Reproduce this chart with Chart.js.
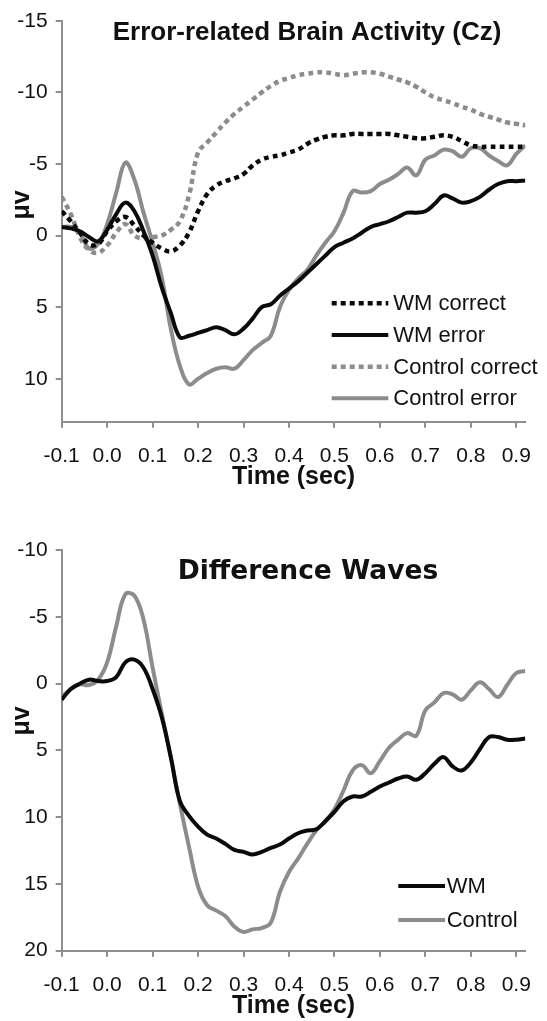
<!DOCTYPE html>
<html>
<head>
<meta charset="utf-8">
<title>Error-related Brain Activity</title>
<script src="https://cdn.jsdelivr.net/npm/chart.js@4.4.1/dist/chart.umd.min.js"></script>
<style>
  html, body { margin: 0; padding: 0; background: #ffffff; }
  .panel { position: absolute; left: 0; width: 547px; }
  #topPanel { top: 0; height: 505px; }
  #bottomPanel { top: 505px; height: 516px; }
</style>
</head>
<body>
<div class="panel" id="topPanel"><canvas id="erpChart" width="547" height="505"></canvas></div>
<div class="panel" id="bottomPanel"><canvas id="diffChart" width="547" height="516"></canvas></div>
<script>
// time axis (sec), shared by both panels
const timeSec = [-0.10, -0.08, -0.06, -0.04, -0.02, 0.00, 0.02, 0.04, 0.06, 0.08,
  0.10, 0.12, 0.14, 0.16, 0.18, 0.20, 0.22, 0.24, 0.26, 0.28,
  0.30, 0.32, 0.34, 0.36, 0.38, 0.40, 0.42, 0.44, 0.46, 0.48,
  0.50, 0.52, 0.54, 0.56, 0.58, 0.60, 0.62, 0.64, 0.66, 0.68,
  0.70, 0.72, 0.74, 0.76, 0.78, 0.80, 0.82, 0.84, 0.86, 0.88,
  0.90, 0.92];

// top panel: Cz amplitudes (µV)
const wmCorrect = [-1.7, -1.0, -0.2, 0.6, 0.6, -0.3, -1.0, -1.3, -0.7, 0.0,
  0.5, 0.9, 1.1, 0.7, -0.2, -1.7, -2.9, -3.5, -3.8, -4.0,
  -4.3, -4.9, -5.3, -5.5, -5.6, -5.8, -6.0, -6.4, -6.7, -6.9,
  -7.0, -7.0, -7.1, -7.1, -7.1, -7.1, -7.1, -7.0, -6.9, -6.8,
  -6.8, -6.9, -7.0, -6.9, -6.6, -6.3, -6.2, -6.2, -6.2, -6.2,
  -6.2, -6.2];
const wmError = [-0.6, -0.5, -0.3, 0.1, 0.4, -0.4, -1.5, -2.3, -1.7, -0.3,
  1.4, 3.6, 5.4, 7.1, 7.0, 6.8, 6.6, 6.4, 6.6, 6.9,
  6.5, 5.8, 5.0, 4.8, 4.2, 3.7, 3.2, 2.6, 2.0, 1.4,
  0.8, 0.5, 0.2, -0.2, -0.6, -0.8, -1.0, -1.3, -1.6, -1.6,
  -1.7, -2.2, -2.8, -2.6, -2.3, -2.4, -2.7, -3.2, -3.6, -3.8,
  -3.8, -3.85];
const controlCorrect = [-2.7, -1.5, 0.1, 1.0, 1.2, 0.7, -0.2, -0.8, 0.0, 0.2,
  0.1, 0.0, -0.4, -1.0, -2.8, -5.8, -6.5, -7.2, -7.9, -8.5,
  -9.0, -9.5, -10.0, -10.45, -10.8, -11.0, -11.2, -11.3, -11.4, -11.4,
  -11.3, -11.2, -11.3, -11.4, -11.4, -11.3, -11.1, -10.9, -10.7, -10.4,
  -10.0, -9.65, -9.45, -9.25, -9.0, -8.8, -8.5, -8.3, -8.1, -7.9,
  -7.8, -7.7];
const controlError = [-0.6, -0.6, -0.2, 0.9, 0.6, -0.8, -3.0, -5.1, -3.9, -1.6,
  0.5, 2.9, 6.5, 9.1, 10.4, 10.0, 9.6, 9.3, 9.2, 9.3,
  8.7, 8.0, 7.5, 7.0, 5.0, 3.8, 3.0, 2.4, 1.4, 0.5,
  -0.3, -1.6, -3.1, -3.0, -3.1, -3.6, -3.9, -4.3, -4.75, -4.2,
  -5.3, -5.6, -6.0, -5.9, -5.5, -6.1, -6.1, -5.6, -5.2, -4.9,
  -5.7, -6.3];

// bottom panel: error minus correct
const wmDiff = [1.2, 0.4, 0.0, -0.3, -0.2, -0.2, -0.5, -1.6, -1.8, -1.2,
  0.4, 2.5, 5.5, 8.8, 9.9, 10.7, 11.3, 11.6, 12.0, 12.45,
  12.6, 12.8, 12.6, 12.3, 12.05, 11.6, 11.2, 11.0, 10.9, 10.3,
  9.6, 8.8, 8.45, 8.45, 8.1, 7.7, 7.4, 7.1, 6.95, 7.2,
  6.7, 6.0, 5.5, 6.2, 6.5, 5.9, 4.9, 4.0, 4.0, 4.2,
  4.2, 4.1];
const controlDiff = [1.0, 0.4, 0.05, 0.1, -0.3, -1.6, -4.3, -6.7, -6.6, -4.8,
  -1.2, 2.2, 5.5, 9.0, 12.2, 15.2, 16.6, 17.0, 17.4, 18.2,
  18.6, 18.4, 18.3, 17.9, 15.6, 14.1, 13.1, 12.0, 11.0, 10.3,
  9.4, 8.0, 6.5, 6.1, 6.7, 5.8, 4.8, 4.2, 3.7, 3.9,
  2.0, 1.4, 0.7, 0.8, 1.2, 0.5, -0.1, 0.4, 1.0, 0.1,
  -0.8, -0.95];

// tick labels
const xTicks = [-0.1, 0.0, 0.1, 0.2, 0.3, 0.4, 0.5, 0.6, 0.7, 0.8, 0.9];
const yTicksTop = [-15, -10, -5, 0, 5, 10];
const yTicksBottom = [-10, -5, 0, 5, 10, 15, 20];

const black = '#0a0a0a';
const gray = '#8c8c8c';
const axisGray = '#8e8e8e';
const ink = '#111111';
const sans = "'Liberation Sans', Arial, Helvetica, sans-serif";

Chart.defaults.font.family = sans;
Chart.defaults.color = ink;

function points(values) {
  return timeSec.map((t, i) => ({ x: t, y: values[i] }));
}

function series(label, values, color, dashed) {
  return {
    label: label,
    data: points(values),
    borderColor: color,
    backgroundColor: color,
    borderWidth: dashed ? 4.5 : 4,
    borderDash: dashed ? [5, 4] : [],
    borderCapStyle: 'butt',
    borderJoinStyle: 'round',
    pointRadius: 0,
    tension: 0.4,
    fill: false,
  };
}

// draws panel title, axis titles and the in-plot legend
const overlay = {
  id: 'overlay',
  afterDraw(chart, args, o) {
    const ctx = chart.ctx;
    const area = chart.chartArea;
    ctx.save();
    ctx.fillStyle = ink;
    ctx.textAlign = 'center';
    ctx.textBaseline = 'alphabetic';
    ctx.font = o.titleFont;
    ctx.fillText(o.title, o.titleX, o.titleY);

    ctx.font = 'bold 25px ' + sans;
    ctx.fillText('Time (sec)', (area.left + area.right) / 2, area.bottom + 62);

    ctx.save();
    ctx.translate(o.yTitleX, o.yTitleY);
    ctx.rotate(-Math.PI / 2);
    ctx.textBaseline = 'middle';
    ctx.font = 'bold 25px ' + sans;
    ctx.fillText('\u03bcv', 0, 0);
    ctx.restore();

    ctx.font = '22px ' + sans;
    ctx.textAlign = 'left';
    ctx.textBaseline = 'middle';
    chart.data.datasets.forEach((ds, i) => {
      const y = o.legendY[i];
      ctx.save();
      ctx.strokeStyle = ds.borderColor;
      ctx.lineWidth = ds.borderWidth;
      ctx.setLineDash(ds.borderDash);
      ctx.lineCap = 'butt';
      ctx.beginPath();
      ctx.moveTo(o.legendX1, y);
      ctx.lineTo(o.legendX2, y);
      ctx.stroke();
      ctx.restore();
      ctx.fillText(ds.label, o.legendText, y + 1);
    });
    ctx.restore();
  }
};

function xScale(height) {
  return {
    type: 'linear',
    min: -0.1,
    max: 0.92,
    afterBuildTicks: (s) => { s.ticks = xTicks.map(v => ({ value: v })); },
    afterFit: (s) => { s.height = height; },
    grid: { drawOnChartArea: false, drawTicks: true, tickLength: 6, color: axisGray, lineWidth: 2 },
    border: { display: true, color: axisGray, width: 2 },
    ticks: {
      autoSkip: false,
      maxRotation: 0,
      padding: 16,
      color: ink,
      font: { size: 21 },
      callback: (v) => v.toFixed(1),
    },
  };
}

function yScale(min, max, tickValues) {
  return {
    type: 'linear',
    reverse: true,
    min: min,
    max: max,
    afterBuildTicks: (s) => { s.ticks = tickValues.map(v => ({ value: v })); },
    afterFit: (s) => { s.width = 61.7; },
    grid: { drawOnChartArea: false, drawTicks: true, tickLength: 6, color: axisGray, lineWidth: 2 },
    border: { display: true, color: axisGray, width: 2 },
    ticks: { padding: 8, color: ink, font: { size: 21 } },
  };
}

new Chart(document.getElementById('erpChart'), {
  type: 'line',
  data: {
    datasets: [
      series('WM correct', wmCorrect, black, true),
      series('WM error', wmError, black, false),
      series('Control correct', controlCorrect, gray, true),
      series('Control error', controlError, gray, false),
    ],
  },
  options: {
    responsive: false,
    animation: false,
    layout: { padding: { left: 0, right: 7.3, top: 20.8, bottom: 0 } },
    scales: {
      x: xScale(83.3),
      y: yScale(-15, 13, yTicksTop),
    },
    plugins: {
      legend: { display: false },
      tooltip: { enabled: false },
      overlay: {
        title: 'Error-related Brain Activity (Cz)',
        titleFont: 'bold 26px ' + sans,
        titleX: 307,
        titleY: 40,
        yTitleX: 22,
        yTitleY: 205,
        legendY: [303.3, 335, 366.7, 398.3],
        legendX1: 331.7,
        legendX2: 388.3,
        legendText: 393.3,
      },
    },
  },
  plugins: [overlay],
});

new Chart(document.getElementById('diffChart'), {
  type: 'line',
  data: {
    datasets: [
      series('WM', wmDiff, black, false),
      series('Control', controlDiff, gray, false),
    ],
  },
  options: {
    responsive: false,
    animation: false,
    layout: { padding: { left: 0, right: 7.3, top: 45.2, bottom: 0 } },
    scales: {
      x: xScale(70.3),
      y: yScale(-10, 20, yTicksBottom),
    },
    plugins: {
      legend: { display: false },
      tooltip: { enabled: false },
      overlay: {
        title: 'Difference Waves',
        titleFont: 'bold 26.5px DejaVu Sans, sans-serif',
        titleX: 308,
        titleY: 74,
        yTitleX: 22.6,
        yTitleY: 216,
        legendY: [381, 415],
        legendX1: 398.3,
        legendX2: 445,
        legendText: 446.7,
      },
    },
  },
  plugins: [overlay],
});
</script>
</body>
</html>
